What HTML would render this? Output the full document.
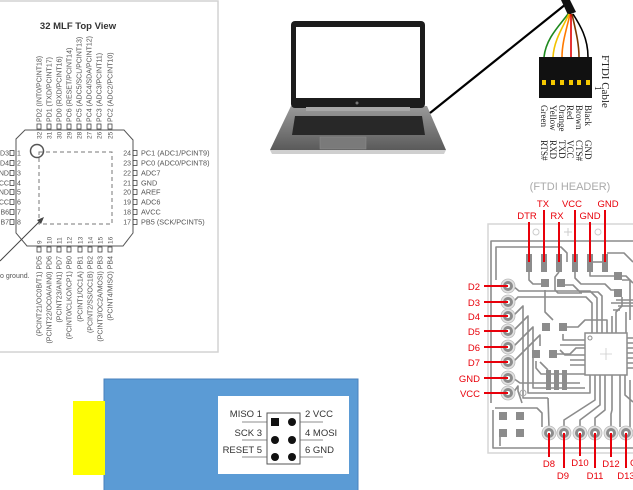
<!DOCTYPE html>
<html><head><meta charset="utf-8"><style>
html,body{margin:0;padding:0;background:#fff;width:633px;height:490px;overflow:hidden}
svg{display:block}
</style></head><body>
<svg width="633" height="490" viewBox="0 0 633 490" xmlns="http://www.w3.org/2000/svg" font-family="Liberation Sans, sans-serif">
<defs>
<linearGradient id="base" x1="0" y1="0" x2="0" y2="1"><stop offset="0" stop-color="#9a9a9a"/><stop offset="1" stop-color="#5a5a5a"/></linearGradient>
</defs>
<!-- ===== Chip panel ===== -->
<rect x="-2" y="1" width="220" height="351" fill="#fff" stroke="#d2d2d2" stroke-width="1.5"/>
<text x="78" y="29" font-size="9.5" font-weight="bold" text-anchor="middle" fill="#333">32 MLF Top View</text>
<polygon points="25,130 124,130 133,140 133,233 123,246 27,246 16,233 16,139" fill="#fff" stroke="#555" stroke-width="1"/>
<circle cx="37" cy="151" r="6.5" fill="none" stroke="#555" stroke-width="1.5"/>
<rect x="39" y="152" width="73" height="72" fill="none" stroke="#777" stroke-width="1" stroke-dasharray="4 3"/>
<line x1="0" y1="261" x2="42" y2="219" stroke="#444" stroke-width="1"/>
<polygon points="44,217 37,220 41,224" fill="#444"/>
<text x="0" y="278" font-size="7" fill="#555">o ground.</text>
<g fill="none" stroke="#444" stroke-width="0.8">
<rect x="37" y="124" width="4" height="5"/><rect x="47" y="124" width="4" height="5"/><rect x="57" y="124" width="4" height="5"/><rect x="67" y="124" width="4" height="5"/><rect x="77" y="124" width="4" height="5"/><rect x="87" y="124" width="4" height="5"/><rect x="97" y="124" width="4" height="5"/><rect x="108" y="124" width="4" height="5"/>
<rect x="37" y="247" width="4" height="5"/><rect x="47" y="247" width="4" height="5"/><rect x="57" y="247" width="4" height="5"/><rect x="67" y="247" width="4" height="5"/><rect x="78" y="247" width="4" height="5"/><rect x="88" y="247" width="4" height="5"/><rect x="98" y="247" width="4" height="5"/><rect x="108" y="247" width="4" height="5"/>
<rect x="10" y="150.5" width="4" height="5"/><rect x="10" y="160.5" width="4" height="5"/><rect x="10" y="170.5" width="4" height="5"/><rect x="10" y="180.5" width="4" height="5"/><rect x="10" y="189.5" width="4" height="5"/><rect x="10" y="199.5" width="4" height="5"/><rect x="10" y="209.5" width="4" height="5"/><rect x="10" y="219.5" width="4" height="5"/>
<rect x="133" y="150.5" width="4" height="5"/><rect x="133" y="160.5" width="4" height="5"/><rect x="133" y="170.5" width="4" height="5"/><rect x="133" y="180.5" width="4" height="5"/><rect x="133" y="189.5" width="4" height="5"/><rect x="133" y="199.5" width="4" height="5"/><rect x="133" y="209.5" width="4" height="5"/><rect x="133" y="219.5" width="4" height="5"/>
</g>
<g font-size="7" fill="#555">
<text transform="translate(41.5,122) rotate(-90)">PD2 (INT0/PCINT18)</text>
<text transform="translate(51.5,122) rotate(-90)">PD1 (TXD/PCINT17)</text>
<text transform="translate(61.5,122) rotate(-90)">PD0 (RXD/PCINT16)</text>
<text transform="translate(71.5,122) rotate(-90)">PC6 (RESET/PCINT14)</text>
<text transform="translate(81.5,122) rotate(-90)">PC5 (ADC5/SCL/PCINT13)</text>
<text transform="translate(91.5,122) rotate(-90)">PC4 (ADC4/SDA/PCINT12)</text>
<text transform="translate(101.5,122) rotate(-90)">PC3 (ADC3/PCINT11)</text>
<text transform="translate(112.5,122) rotate(-90)">PC2 (ADC2/PCINT10)</text>
</g>
<g font-size="6.5" fill="#555">
<text transform="translate(41.5,139) rotate(-90)">32</text>
<text transform="translate(51.5,139) rotate(-90)">31</text>
<text transform="translate(61.5,139) rotate(-90)">30</text>
<text transform="translate(71.5,139) rotate(-90)">29</text>
<text transform="translate(81.5,139) rotate(-90)">28</text>
<text transform="translate(91.5,139) rotate(-90)">27</text>
<text transform="translate(101.5,139) rotate(-90)">26</text>
<text transform="translate(112.5,139) rotate(-90)">25</text>
<text transform="translate(41.5,244) rotate(-90)">9</text>
<text transform="translate(51.5,244) rotate(-90)">10</text>
<text transform="translate(61.5,244) rotate(-90)">11</text>
<text transform="translate(71.5,244) rotate(-90)">12</text>
<text transform="translate(82.5,244) rotate(-90)">13</text>
<text transform="translate(92.5,244) rotate(-90)">14</text>
<text transform="translate(102.5,244) rotate(-90)">15</text>
<text transform="translate(112.5,244) rotate(-90)">16</text>
</g>
<g font-size="7" fill="#555" text-anchor="end">
<text transform="translate(41.5,256) rotate(-90)">(PCINT21/OC0B/T1) PD5</text>
<text transform="translate(51.5,256) rotate(-90)">(PCINT22/OC0A/AIN0) PD6</text>
<text transform="translate(61.5,256) rotate(-90)">(PCINT23/AIN1) PD7</text>
<text transform="translate(71.5,256) rotate(-90)">(PCINT0/CLKO/ICP1) PB0</text>
<text transform="translate(82.5,256) rotate(-90)">(PCINT1/OC1A) PB1</text>
<text transform="translate(92.5,256) rotate(-90)">(PCINT2/SS/OC1B) PB2</text>
<text transform="translate(102.5,256) rotate(-90)">(PCINT3/OC2A/MOSI) PB3</text>
<text transform="translate(112.5,256) rotate(-90)">(PCINT4/MISO) PB4</text>
</g>
<g font-size="7" fill="#555" text-anchor="end">
<text x="9" y="155.5">D3</text><text x="9" y="165.5">D4</text><text x="9" y="175.5">ND</text><text x="9" y="185.5">CC</text><text x="9" y="194.5">ND</text><text x="9" y="204.5">CC</text><text x="9" y="214.5">B6</text><text x="9" y="224.5">B7</text>
<text x="131" y="155.5">24</text><text x="131" y="165.5">23</text><text x="131" y="175.5">22</text><text x="131" y="185.5">21</text><text x="131" y="194.5">20</text><text x="131" y="204.5">19</text><text x="131" y="214.5">18</text><text x="131" y="224.5">17</text>
</g>
<g font-size="7" fill="#555">
<text x="17" y="155.5">1</text><text x="17" y="165.5">2</text><text x="17" y="175.5">3</text><text x="17" y="185.5">4</text><text x="17" y="194.5">5</text><text x="17" y="204.5">6</text><text x="17" y="214.5">7</text><text x="17" y="224.5">8</text>
</g>
<g font-size="7.3" fill="#555">
<text x="141" y="155.5">PC1 (ADC1/PCINT9)</text><text x="141" y="165.5">PC0 (ADC0/PCINT8)</text><text x="141" y="175.5">ADC7</text><text x="141" y="185.5">GND</text><text x="141" y="194.5">AREF</text><text x="141" y="204.5">ADC6</text><text x="141" y="214.5">AVCC</text><text x="141" y="224.5">PB5 (SCK/PCINT5)</text>
</g>

<!-- ===== Laptop ===== -->
<polygon points="291,106 427,106 446,150 270,150" fill="url(#base)"/>
<polygon points="270,150 446,150 444,154 272,154" fill="#cfcfcf"/>
<rect x="291" y="21" width="134" height="87" rx="4" fill="#1c1c1c"/>
<rect x="296" y="27" width="124" height="71" fill="#fff"/>
<circle cx="357" cy="103" r="1.5" fill="#777"/>
<rect x="306" y="107" width="104" height="4" fill="#a8a8a8"/>
<polygon points="295,116 422,116 425,135 292,135" fill="#282828"/>
<rect x="320" y="137" width="46" height="12" fill="#7a7a7a" stroke="#8e8e8e" stroke-width="0.5"/>

<!-- ===== Cable ===== -->
<line x1="430" y1="113" x2="566" y2="4" stroke="#000" stroke-width="2.2"/>
<polygon points="561,0 570,0 576,12 568,15" fill="#111"/>
<g fill="none" stroke-width="1.6">
<path d="M568,14 C560,25 546,38 544,57" stroke="#1f8a1f"/>
<path d="M569,14 C563,27 554,40 553,57" stroke="#f2c200"/>
<path d="M570,14 C567,28 562,42 562,57" stroke="#ff7a00"/>
<path d="M571,14 C571,30 571,42 571,57" stroke="#e00000"/>
<path d="M572,14 C575,28 579,42 579,57" stroke="#7a3a00"/>
<path d="M573,14 C580,25 588,38 588,57" stroke="#000"/>
</g>
<rect x="539" y="57" width="53" height="41" fill="#111"/>
<g fill="#f5c800">
<rect x="542" y="80" width="4" height="5"/><rect x="551" y="80" width="4" height="5"/><rect x="560" y="80" width="4" height="5"/><rect x="569" y="80" width="4" height="5"/><rect x="577" y="80" width="4" height="5"/><rect x="586" y="80" width="4" height="5"/>
</g>
<g font-family="Liberation Serif, serif" fill="#222">
<text transform="translate(602,55) rotate(90)" font-size="11">FTDI Cable</text>
<text transform="translate(595,86) rotate(90)" font-size="9">1</text>
<g font-size="9">
<text transform="translate(585,105) rotate(90)">Black</text>
<text transform="translate(576,105) rotate(90)">Brown</text>
<text transform="translate(567,105) rotate(90)">Red</text>
<text transform="translate(559,105) rotate(90)">Orange</text>
<text transform="translate(550,105) rotate(90)">Yellow</text>
<text transform="translate(541,105) rotate(90)">Green</text>
<text transform="translate(585,140) rotate(90)">GND</text>
<text transform="translate(576,140) rotate(90)">CTS#</text>
<text transform="translate(567,140) rotate(90)">VCC</text>
<text transform="translate(559,140) rotate(90)">TXD</text>
<text transform="translate(550,140) rotate(90)">RXD</text>
<text transform="translate(541,140) rotate(90)">RTS#</text>
</g>
</g>

<!-- ===== PCB ===== -->
<text x="570" y="190" font-size="11" fill="#aaa" text-anchor="middle">(FTDI HEADER)</text>
<rect x="488" y="224" width="150" height="229" fill="#fff" stroke="#d6d6d6" stroke-width="1.5"/>
<circle cx="536" cy="232" r="3" fill="none" stroke="#ccc"/>
<circle cx="598" cy="232" r="3" fill="none" stroke="#ccc"/>
<path d="M564,232 H572 M568,228 V236" stroke="#ccc"/>
<g fill="none" stroke="#8c8c8c" stroke-width="1.6" stroke-linejoin="round">
<path d="M491,403 V241 H633"/>
<path d="M496,280 V247 H561 L567,253 V262"/>
<path d="M607,253 H624 L633,262"/>
<path d="M590,262 H605"/>
<path d="M529,272 V280 L533,284 H541"/>
<path d="M559,272 L555,277 V290 L558,293 H582"/>
<path d="M575,272 V278 L581,284 H605 L611,290 H614"/>
<path d="M590,272 V276 H626 L633,283"/>
<path d="M622,297 V306 L616,312 V333"/>
<path d="M622,280 H630 V320"/>
<path d="M513,286 L519,291 H590 L597,298 V333"/>
<path d="M513,302 L518,297 H586 L592,303 V333"/>
<path d="M565,285 H573 L580,292 H598 L602,296 V333"/>
<path d="M567,327 H578 L585,320 H607 V333"/>
<path d="M613,310 H620 M611,303 H633"/>
<path d="M612,316 V333 M626,312 V333"/>
<path d="M616,300 H633 M618,306 H633"/>
<path d="M513,316 L523,306 V398 H548"/>
<path d="M513,331 L528,316 V393 H590 V375"/>
<path d="M513,347 L533,327 V388 H585"/>
<path d="M513,362 L540,335 V346 M540,362 L548,370"/>
<path d="M513,378 L520,383 H580"/>
<path d="M513,393 L518,386 V391 L522,403"/>
<path d="M545,290 V312 L553,320"/>
<path d="M553,354 H570 L576,348 H585"/>
<path d="M536,361 V368 L541,374 H585"/>
<path d="M563,334 V340 H585"/>
<path d="M560,345 H585 M560,350 L565,355 H585 M570,360 H585 M570,365 H585"/>
<path d="M495,408 H537 L542,413 V427"/>
<path d="M493,410 V448 H633"/>
<path d="M500,437 V446"/>
<path d="M595,375 V400 L564,420 V427"/>
<path d="M600,375 V405 L580,420 V427"/>
<path d="M605,375 V410 L595,418 V427"/>
<path d="M612,375 V410 L611,414 V427"/>
<path d="M620,375 V427"/>
<path d="M625,375 V395 L633,402"/>
<path d="M630,380 V427"/>
<path d="M627,338 H633 M627,343 H633 M627,348 H633 M627,353 H633 M627,358 H633 M627,363 H633 M627,368 H633"/>
<path d="M548,398 L549,427"/>
</g>
<rect x="585" y="333" width="42" height="42" fill="#fff" stroke="#8c8c8c" stroke-width="1.5"/>
<circle cx="590" cy="338" r="2" fill="none" stroke="#8c8c8c"/>
<path d="M600,354 H612 M606,348 V360" stroke="#ccc" stroke-width="0.8"/>
<g fill="#8c8c8c">
<rect x="526" y="254" width="6" height="18"/><rect x="541" y="254" width="6" height="18"/><rect x="556" y="254" width="6" height="18"/><rect x="572" y="254" width="6" height="18"/><rect x="587" y="254" width="6" height="18"/><rect x="602" y="254" width="6" height="18"/>
<rect x="541" y="279" width="8" height="8"/><rect x="557" y="279" width="8" height="8"/>
<rect x="614" y="272" width="8" height="8"/><rect x="614" y="289" width="8" height="8"/>
<rect x="542" y="323" width="8" height="8"/><rect x="559" y="323" width="8" height="8"/>
<rect x="532" y="350" width="8" height="8"/><rect x="549" y="350" width="8" height="8"/>
<rect x="546" y="370" width="5" height="20"/><rect x="554" y="370" width="5" height="20"/><rect x="562" y="370" width="5" height="20"/>
<rect x="499" y="412" width="8" height="8"/><rect x="516" y="412" width="8" height="8"/>
<rect x="499" y="429" width="8" height="8"/><rect x="516" y="429" width="8" height="8"/>
</g>
<circle cx="523" cy="393" r="3" fill="none" stroke="#aaa"/>
<!-- header pads -->
<g>
<g fill="#e2e2e2" stroke="#bbb" stroke-width="0.8">
<circle cx="508" cy="286" r="7"/><circle cx="508" cy="302" r="7"/><circle cx="508" cy="316" r="7"/><circle cx="508" cy="331" r="7"/><circle cx="508" cy="347" r="7"/><circle cx="508" cy="362" r="7"/><circle cx="508" cy="378" r="7"/><circle cx="508" cy="393" r="7"/>
<circle cx="549" cy="433" r="7"/><circle cx="564" cy="433" r="7"/><circle cx="580" cy="433" r="7"/><circle cx="595" cy="433" r="7"/><circle cx="611" cy="433" r="7"/><circle cx="626" cy="433" r="7"/>
</g>
<g fill="#8c8c8c">
<circle cx="508" cy="286" r="5"/><circle cx="508" cy="302" r="5"/><circle cx="508" cy="316" r="5"/><circle cx="508" cy="331" r="5"/><circle cx="508" cy="347" r="5"/><circle cx="508" cy="362" r="5"/><circle cx="508" cy="378" r="5"/><circle cx="508" cy="393" r="5"/>
<circle cx="549" cy="433" r="5"/><circle cx="564" cy="433" r="5"/><circle cx="580" cy="433" r="5"/><circle cx="595" cy="433" r="5"/><circle cx="611" cy="433" r="5"/><circle cx="626" cy="433" r="5"/>
</g>
<g fill="#fff">
<circle cx="508" cy="286" r="2"/><circle cx="508" cy="302" r="2"/><circle cx="508" cy="316" r="2"/><circle cx="508" cy="331" r="2"/><circle cx="508" cy="347" r="2"/><circle cx="508" cy="362" r="2"/><circle cx="508" cy="378" r="2"/><circle cx="508" cy="393" r="2"/>
<circle cx="549" cy="433" r="2"/><circle cx="564" cy="433" r="2"/><circle cx="580" cy="433" r="2"/><circle cx="595" cy="433" r="2"/><circle cx="611" cy="433" r="2"/><circle cx="626" cy="433" r="2"/>
</g>
</g>
<!-- red annotations -->
<g stroke="#e8000a" stroke-width="2">
<line x1="529" y1="222" x2="529" y2="262"/><line x1="544" y1="210" x2="544" y2="262"/><line x1="559" y1="222" x2="559" y2="262"/><line x1="575" y1="210" x2="575" y2="262"/><line x1="590" y1="222" x2="590" y2="262"/><line x1="605" y1="210" x2="605" y2="262"/>
<line x1="484" y1="286" x2="508" y2="286"/><line x1="484" y1="302" x2="508" y2="302"/><line x1="484" y1="316" x2="508" y2="316"/><line x1="484" y1="331" x2="508" y2="331"/><line x1="484" y1="347" x2="508" y2="347"/><line x1="484" y1="362" x2="508" y2="362"/><line x1="484" y1="378" x2="508" y2="378"/><line x1="484" y1="393" x2="508" y2="393"/>
<line x1="549" y1="433" x2="549" y2="457"/><line x1="564" y1="433" x2="564" y2="468"/><line x1="580" y1="433" x2="580" y2="456"/><line x1="595" y1="433" x2="595" y2="468"/><line x1="611" y1="433" x2="611" y2="457"/><line x1="626" y1="433" x2="626" y2="468"/>
</g>
<g fill="#e8000a" font-size="9.5">
<g text-anchor="middle">
<text x="543" y="207">TX</text><text x="572" y="207">VCC</text><text x="608" y="207">GND</text>
<text x="527" y="219">DTR</text><text x="557" y="219">RX</text><text x="590" y="219">GND</text>
<text x="549" y="467">D8</text><text x="563" y="479">D9</text><text x="580" y="466">D10</text><text x="595" y="479">D11</text><text x="611" y="467">D12</text><text x="626" y="479">D13</text>
</g>
<text x="630" y="466">C</text>
<g text-anchor="end">
<text x="480" y="290">D2</text><text x="480" y="306">D3</text><text x="480" y="320">D4</text><text x="480" y="335">D5</text><text x="480" y="351">D6</text><text x="480" y="366">D7</text><text x="480" y="382">GND</text><text x="480" y="397">VCC</text>
</g>
</g>

<!-- ===== ISP board ===== -->
<rect x="104" y="379" width="254" height="115" fill="#5b9bd5" stroke="#4a82bd" stroke-width="1"/>
<rect x="73" y="401" width="32" height="74" fill="#ffff00"/>
<rect x="218" y="396" width="131" height="78" fill="#fff"/>
<rect x="267" y="413" width="33" height="51" fill="#fff" stroke="#555" stroke-width="1"/>
<rect x="271" y="418" width="8" height="8" fill="#111"/>
<g fill="#111"><circle cx="292" cy="422" r="4"/><circle cx="275" cy="440" r="4"/><circle cx="292" cy="440" r="4"/><circle cx="275" cy="457" r="4"/><circle cx="292" cy="457" r="4"/></g>
<g stroke="#666" stroke-width="0.8">
<line x1="242" y1="422" x2="267" y2="422"/><line x1="242" y1="440" x2="267" y2="440"/><line x1="242" y1="457" x2="267" y2="457"/>
<line x1="300" y1="422" x2="323" y2="422"/><line x1="300" y1="440" x2="323" y2="440"/><line x1="300" y1="457" x2="323" y2="457"/>
</g>
<g font-size="9.5" fill="#333">
<g text-anchor="end"><text x="262" y="417">MISO  1</text><text x="262" y="436">SCK   3</text><text x="262" y="453">RESET 5</text></g>
<text x="305" y="417">2  VCC</text><text x="305" y="436">4  MOSI</text><text x="305" y="453">6  GND</text>
</g>
</svg>
</body></html>
